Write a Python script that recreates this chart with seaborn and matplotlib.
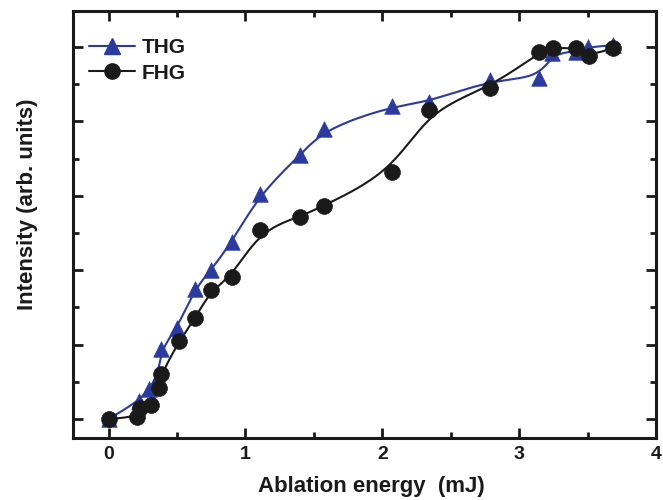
import numpy as np
import pandas as pd
import matplotlib
matplotlib.use("Agg")
import matplotlib.pyplot as plt
from matplotlib.lines import Line2D
from matplotlib.ticker import MultipleLocator
import seaborn as sns

# Ablation energy (mJ) and normalised harmonic intensity
thg_energy = [0.0, 0.219, 0.295, 0.362, 0.383, 0.503, 0.630, 0.747, 0.903, 1.107,
              1.399, 1.577, 2.069, 2.339, 2.790, 3.147, 3.242, 3.417, 3.505, 3.687]
thg_intensity = [0.0, 0.048, 0.081, 0.113, 0.189, 0.245, 0.350, 0.400, 0.477, 0.606,
                 0.709, 0.780, 0.841, 0.852, 0.912, 0.916, 0.984, 0.987, 1.000, 1.005]

fhg_energy = [0.0, 0.209, 0.233, 0.311, 0.372, 0.386, 0.517, 0.632, 0.748, 0.901, 1.107,
              1.399, 1.575, 2.074, 2.341, 2.790, 3.148, 3.245, 3.419, 3.512, 3.689]
fhg_intensity = [0.0, 0.006, 0.030, 0.038, 0.084, 0.122, 0.210, 0.271, 0.346, 0.383, 0.507,
                 0.544, 0.574, 0.665, 0.832, 0.891, 0.986, 0.998, 0.998, 0.976, 0.998]

x_ticks = [0, 1, 2, 3, 4]
series_names = ["THG", "FHG"]
series_colors = ["#2b3a9e", "#1a1a1a"]


def bspline(xs, ys, n=30):
    """Clamped uniform cubic B-spline through the control points (connection line)."""
    px = np.r_[xs[0], xs[0], xs, xs[-1], xs[-1]].astype(float)
    py = np.r_[ys[0], ys[0], ys, ys[-1], ys[-1]].astype(float)
    t = np.linspace(0, 1, n, endpoint=False)
    b0 = (1 - t) ** 3 / 6
    b1 = (3 * t ** 3 - 6 * t ** 2 + 4) / 6
    b2 = (-3 * t ** 3 + 3 * t ** 2 + 3 * t + 1) / 6
    b3 = t ** 3 / 6
    cx, cy = [], []
    for i in range(len(px) - 3):
        cx.append(b0 * px[i] + b1 * px[i + 1] + b2 * px[i + 2] + b3 * px[i + 3])
        cy.append(b0 * py[i] + b1 * py[i + 1] + b2 * py[i + 2] + b3 * py[i + 3])
    cx.append([xs[-1]])
    cy.append([ys[-1]])
    return np.concatenate(cx), np.concatenate(cy)


sns.set_theme(style="ticks")
plt.rcParams["font.family"] = ["Liberation Sans", "DejaVu Sans"]
plt.rcParams["font.weight"] = "bold"

fig = plt.figure(figsize=(6.63, 5.0), dpi=100)
ax = fig.add_axes([0.1101, 0.124, 0.8793, 0.854])

data = [(thg_energy, thg_intensity), (fhg_energy, fhg_intensity)]
markers = ["^", "o"]
for (xs, ys), name, col, mk in zip(data, series_names, series_colors, markers):
    sx, sy = bspline(np.array(xs), np.array(ys))
    curve = pd.DataFrame({"x": sx, "y": sy})
    sns.lineplot(data=curve, x="x", y="y", sort=False, estimator=None,
                 color=col, linewidth=1.5, ax=ax, zorder=2)
    pts = pd.DataFrame({"x": xs, "y": ys})
    sns.scatterplot(data=pts, x="x", y="y", marker=mk, color=col,
                    s=125 if mk == "^" else 130, edgecolor=col, linewidth=0.5,
                    ax=ax, zorder=3)

ax.set_xlim(-0.26, 4.0)
ax.set_ylim(-0.051, 1.097)
ax.set_xticks(x_ticks)
ax.set_xticklabels([str(v) for v in x_ticks])
ax.xaxis.set_minor_locator(MultipleLocator(0.5))
ax.yaxis.set_major_locator(MultipleLocator(0.2))
ax.yaxis.set_minor_locator(MultipleLocator(0.1))
ax.tick_params(axis="both", which="both", direction="in", top=True, right=True,
               labelleft=False, color="#1a1a1a", width=2.0)
ax.tick_params(axis="both", which="major", length=7)
ax.tick_params(axis="both", which="minor", length=4)
ax.tick_params(axis="x", labelsize=14, pad=6, labelcolor="#1a1a1a")
for lab in ax.get_xticklabels():
    lab.set_fontweight("bold")
for sp in ax.spines.values():
    sp.set_linewidth(2.2)
    sp.set_color("#1a1a1a")

ax.set_xlabel("Ablation energy  (mJ)", fontsize=16, fontweight="bold",
              color="#1a1a1a")
ax.set_ylabel("Intensity (arb. units)", fontsize=16, fontweight="bold",
              color="#1a1a1a")
ax.xaxis.set_label_coords(0.512, -0.088)
ax.yaxis.set_label_coords(-0.060, 0.548)

handles = [Line2D([], [], color=c, marker=m, markersize=11, linewidth=1.5)
           for c, m in zip(series_colors, markers)]
leg = ax.legend(handles, series_names, loc="upper left", bbox_to_anchor=(-0.005, 0.98),
                frameon=False, handlelength=2.2, handletextpad=0.35,
                labelspacing=0.3, prop={"weight": "bold", "size": 15})
for t in leg.get_texts():
    t.set_color("#1a1a1a")

fig.savefig("out.png", dpi=100)
